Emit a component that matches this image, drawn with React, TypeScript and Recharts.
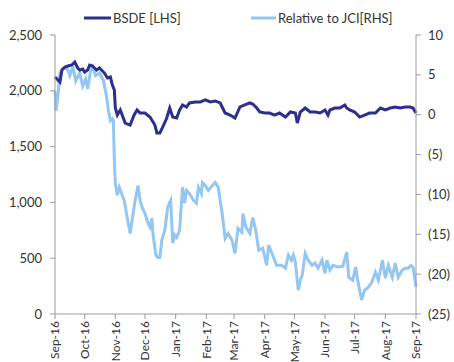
import { LineChart, Line, XAxis, YAxis } from "recharts";

// day offsets from 1 Sep 2016 and values
const bsdeDays = [0, 3, 5, 7, 10, 13, 17, 20, 23, 25, 28, 30, 33, 35, 38, 42, 45, 50, 53, 56, 58, 60, 61, 63, 66, 71, 76, 80, 83, 86, 91, 96, 101, 103, 106, 109, 113, 116, 119, 123, 126, 129, 133, 136, 142, 147, 152, 157, 162, 167, 172, 177, 182, 187, 192, 197, 200, 204, 207, 212, 217, 222, 227, 233, 238, 243, 245, 248, 253, 258, 263, 268, 273, 276, 278, 283, 288, 293, 295, 298, 303, 308, 313, 318, 324, 329, 334, 339, 344, 349, 354, 359, 362, 365];
const bsdeValues = [2124, 2097, 2079, 2186, 2213, 2222, 2231, 2258, 2204, 2186, 2195, 2168, 2186, 2231, 2222, 2186, 2204, 2159, 2115, 2124, 2052, 2007, 1846, 1783, 1828, 1711, 1693, 1783, 1828, 1801, 1801, 1765, 1693, 1622, 1622, 1676, 1756, 1846, 1765, 1756, 1828, 1873, 1855, 1891, 1900, 1900, 1918, 1900, 1909, 1891, 1801, 1783, 1756, 1855, 1873, 1891, 1882, 1846, 1810, 1801, 1801, 1783, 1801, 1765, 1810, 1801, 1711, 1810, 1846, 1810, 1810, 1801, 1828, 1783, 1828, 1846, 1846, 1873, 1846, 1828, 1810, 1765, 1783, 1801, 1801, 1846, 1828, 1846, 1855, 1846, 1855, 1855, 1846, 1801];

const jciDays = [0, 1, 3, 5, 8, 12, 15, 18, 21, 25, 28, 31, 33, 36, 38, 41, 45, 49, 52, 54, 56, 58, 59, 60, 61, 63, 65, 68, 70, 73, 76, 78, 81, 84, 86, 88, 91, 94, 96, 98, 99, 102, 104, 106, 108, 111, 114, 116, 117, 119, 121, 123, 126, 128, 129, 131, 133, 136, 140, 143, 145, 148, 149, 152, 155, 159, 162, 165, 167, 169, 172, 175, 179, 182, 185, 189, 190, 193, 197, 200, 203, 206, 210, 214, 216, 220, 224, 229, 233, 236, 239, 241, 243, 246, 248, 250, 253, 256, 260, 263, 266, 270, 273, 275, 278, 281, 286, 291, 295, 297, 301, 304, 306, 310, 313, 316, 320, 324, 327, 331, 334, 337, 341, 344, 347, 351, 354, 357, 360, 362, 365];
const jciValues = [3.0, 0.5, 2.4, 5.25, 5.75, 5.9, 4.9, 6.1, 4.25, 5.25, 3.6, 4.5, 3.25, 5.5, 6.0, 4.9, 5.25, 4.25, 2.4, 0.5, -0.75, -0.5, -0.75, -5.75, -8.6, -10.1, -9.1, -10.1, -10.75, -12.9, -14.9, -13.25, -10.75, -8.9, -10.75, -11.6, -12.4, -13.6, -14.1, -13.0, -14.9, -17.6, -17.9, -17.9, -15.75, -14.5, -11.6, -11.0, -10.75, -16.1, -15.1, -15.4, -14.5, -10.75, -9.1, -11.1, -9.5, -9.9, -10.75, -11.1, -9.1, -9.9, -8.5, -8.9, -9.5, -8.9, -8.5, -9.1, -10.75, -12.4, -15.5, -14.9, -15.75, -17.4, -14.25, -14.75, -12.4, -14.1, -14.9, -12.9, -14.5, -17.0, -16.75, -18.9, -16.4, -17.6, -18.9, -18.9, -19.25, -17.6, -18.25, -17.6, -18.5, -22.0, -20.75, -20.1, -17.4, -18.25, -18.9, -18.6, -19.25, -18.25, -19.9, -18.25, -19.5, -18.9, -19.1, -19.0, -17.25, -20.4, -20.75, -19.1, -20.75, -23.25, -22.0, -21.75, -21.1, -19.75, -20.75, -18.25, -20.5, -18.9, -20.4, -18.6, -20.4, -19.5, -19.25, -19.25, -18.9, -19.1, -21.6];

const monthDays = [0, 30, 61, 91, 122, 153, 181, 212, 242, 273, 303, 334, 365];
const monthLabels = ["Sep-16", "Oct-16", "Nov-16", "Dec-16", "Jan-17", "Feb-17", "Mar-17", "Apr-17", "May-17", "Jun-17", "Jul-17", "Aug-17", "Sep-17"];
const lhsTicks = [0, 500, 1000, 1500, 2000, 2500];
const rhsTicks = [-25, -20, -15, -10, -5, 0, 5, 10];

const bsdeData = bsdeDays.map((d, i) => ({ d, v: bsdeValues[i] }));
const jciData = jciDays.map((d, i) => ({ d, v: jciValues[i] }));

const DARK = "#2c2f8c";
const LIGHT = "#94c6f2";
const AXIS = "#9a9a9a";
const FONT = "Lato, sans-serif";

const MonthTick = (props: any) => {
  const { x, y, payload } = props;
  const i = monthDays.indexOf(payload.value);
  return (
    <text
      x={x}
      y={y}
      transform={`rotate(-90, ${x}, ${y})`}
      textAnchor="end"
      dy="0.35em"
      fontSize={12}
      fontFamily={FONT}
      fill="#333"
    >
      {monthLabels[i]}
    </text>
  );
};

const fmtLhs = (v: number) => v.toLocaleString("en-US");
const fmtRhs = (v: number) => (v < 0 ? `(${Math.abs(v)})` : `${v}`);

export default function App() {
  return (
    <div style={{ position: "fixed", left: 0, top: 0, width: 454, height: 362, background: "#fff" }}>
      <svg width={454} height={30} style={{ position: "absolute", left: 0, top: 0 }}>
        <line x1={84} y1={18} x2={111} y2={18} stroke={DARK} strokeWidth={3} />
        <text x={113} y={22.5} fontSize={13} fontFamily={FONT} fill="#333">BSDE [LHS]</text>
        <line x1={251} y1={18} x2={276} y2={18} stroke={LIGHT} strokeWidth={3} />
        <text x={278} y={22.5} fontSize={13} fontFamily={FONT} fill="#333">Relative to JCI[RHS]</text>
      </svg>
      <LineChart
        width={454}
        height={362}
        margin={{ top: 35, right: 0, left: 0, bottom: 0 }}
        style={{ position: "absolute", left: 0, top: 0 }}
      >
        <XAxis
          dataKey="d"
          type="number"
          domain={[0, 365]}
          ticks={monthDays}
          interval={0}
          height={48}
          tick={<MonthTick />}
          tickSize={5}
          tickMargin={2}
          stroke={AXIS}
        />
        <YAxis
          yAxisId="lhs"
          orientation="left"
          width={55}
          domain={[0, 2500]}
          ticks={lhsTicks}
          interval={0}
          tickFormatter={fmtLhs}
          tickSize={5}
          tickMargin={8}
          stroke={AXIS}
          tick={{ fill: "#333", fontSize: 13, fontFamily: FONT }}
        />
        <YAxis
          yAxisId="rhs"
          orientation="right"
          width={38}
          domain={[-25, 10]}
          ticks={rhsTicks}
          interval={0}
          tickFormatter={fmtRhs}
          tickSize={5}
          tickMargin={7}
          stroke={AXIS}
          tick={{ fill: "#333", fontSize: 13, fontFamily: FONT }}
        />
        <Line
          yAxisId="rhs"
          data={jciData}
          dataKey="v"
          type="linear"
          stroke={LIGHT}
          strokeWidth={3}
          dot={false}
          isAnimationActive={false}
        />
        <Line
          yAxisId="lhs"
          data={bsdeData}
          dataKey="v"
          type="linear"
          stroke={DARK}
          strokeWidth={3}
          dot={false}
          isAnimationActive={false}
        />
      </LineChart>
    </div>
  );
}
